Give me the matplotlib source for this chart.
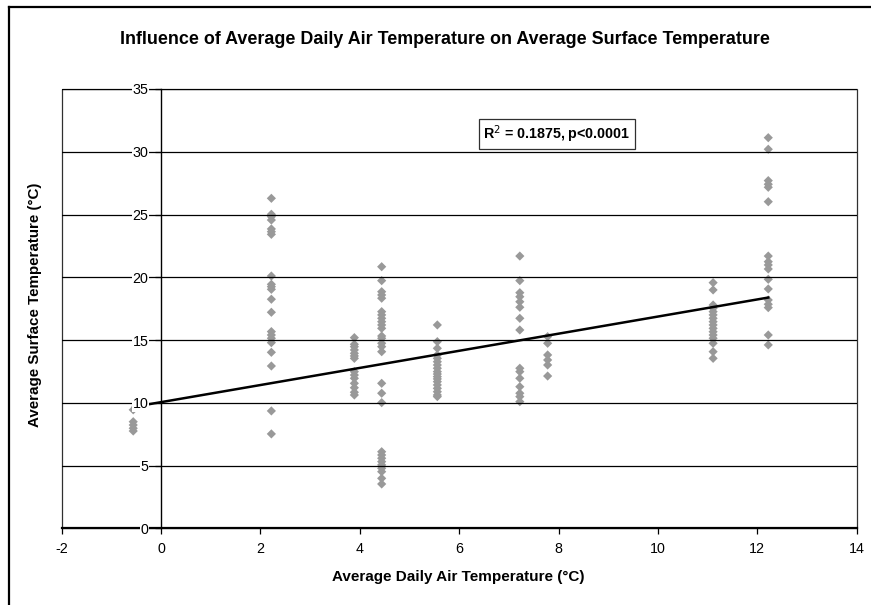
import numpy as np
import matplotlib
matplotlib.use("Agg")
import matplotlib.pyplot as plt
from matplotlib.lines import Line2D

plt.rcParams['font.family'] = ['Liberation Sans', 'DejaVu Sans']
plt.rcParams['axes.unicode_minus'] = False

# air temperature groups (deg C) and the surface temperatures read for each
air_temps = [-0.56, 2.22, 3.89, 4.44, 5.56, 7.22, 7.78, 11.11, 12.22]
surf_m056 = [9.44, 8.49, 8.23, 7.97, 7.75]
surf_222 = [26.29, 25.02, 24.83, 24.56, 23.85, 23.63, 23.42, 20.10, 19.44, 19.25,
            19.04, 18.25, 17.21, 15.67, 15.40, 15.14, 14.79, 14.02, 12.93, 9.35, 7.52]
surf_389 = [15.19, 14.66, 14.47, 14.21, 13.94, 13.73, 13.54, 12.48, 12.21, 11.95,
            11.55, 11.20, 10.84, 10.62]
surf_444 = [20.84, 19.73, 18.85, 18.59, 18.33, 17.26, 17.00, 16.73, 16.46, 16.20,
            15.93, 15.32, 15.14, 14.74, 14.47, 14.07, 11.55, 10.76, 10.01, 6.10,
            5.84, 5.58, 5.31, 5.05, 4.78, 4.51, 3.98, 3.53]
surf_556 = [16.20, 14.87, 14.34, 13.81, 13.54, 13.27, 13.01, 12.75, 12.48, 12.29,
            12.08, 11.90, 11.68, 11.42, 11.15, 10.88, 10.62, 10.49]
surf_722 = [21.69, 19.73, 18.77, 18.45, 18.05, 17.61, 16.73, 15.80, 12.75, 12.48,
            11.95, 11.28, 10.76, 10.49, 10.09]
surf_778 = [15.27, 14.74, 13.81, 13.41, 13.01, 12.13]
surf_1111 = [19.57, 18.99, 17.79, 17.53, 17.26, 17.00, 16.73, 16.46, 16.20, 15.93,
             15.66, 15.40, 15.14, 14.74, 14.07, 13.54]
surf_1222 = [31.12, 30.20, 27.70, 27.41, 27.17, 26.02, 21.69, 21.24, 20.98, 20.66,
             19.84, 19.07, 18.19, 17.85, 17.58, 15.40, 14.61]

# linear trend as shown on the chart
trend_slope = 0.682
trend_intercept = 10.05
annotation = "R$^2$ = 0.1875, p<0.0001"

groups = [surf_m056, surf_222, surf_389, surf_444, surf_556,
          surf_722, surf_778, surf_1111, surf_1222]
x = np.concatenate([[t] * len(g) for t, g in zip(air_temps, groups)])
y = np.concatenate(groups)

fig = plt.figure(figsize=(8.71, 6.05), dpi=100)
ax = fig.add_axes([0.0708, 0.1268, 0.9128, 0.7261])

ax.scatter(x, y, marker='D', s=22, color='#999999', edgecolors='none', zorder=2)

xt = np.array([min(air_temps), max(air_temps)])
ax.plot(xt, trend_slope * xt + trend_intercept, color='black', lw=1.8, zorder=3)

ax.set_xlim(-2, 14)
ax.set_ylim(0, 35)
ax.set_xticks(np.arange(-2, 15, 2))
ax.set_yticks(np.arange(0, 36, 5))

ax.grid(axis='y', color='black', lw=0.9)
ax.yaxis.set_zorder(4)

ax.spines['left'].set_position(('data', 0))
ax.spines['left'].set_linewidth(1.0)
ax.spines['bottom'].set_linewidth(1.6)
for s in ['top', 'right']:
    ax.spines[s].set_visible(False)
# plot area border
frame = plt.Rectangle((0, 0), 1, 1, transform=ax.transAxes, fill=False,
                      edgecolor='#303030', lw=0.9, zorder=1, clip_on=False)
ax.add_patch(frame)

ax.tick_params(axis='both', direction='out', length=4, width=0.9, labelsize=10.3)
ax.tick_params(axis='y', pad=5)
ax.tick_params(axis='x', pad=6)
for lab in ax.get_yticklabels():
    lab.set_bbox(dict(facecolor='white', edgecolor='none', pad=0.5))

ax.text(0.623, 0.8976, annotation, transform=ax.transAxes, ha='center', va='center',
        fontsize=10.3, fontweight='bold', zorder=5,
        bbox=dict(facecolor='white', edgecolor='#303030', lw=0.9, boxstyle='square,pad=0.3'))

fig.text(445 / 871, 0.934, "Influence of Average Daily Air Temperature on Average Surface Temperature",
         ha='center', va='center', fontsize=12.9, fontweight='bold')
fig.text(458.7 / 871, 1 - 576.7 / 605, "Average Daily Air Temperature (°C)",
         ha='center', va='center', fontsize=11.0, fontweight='bold')
fig.text(35 / 871, 1 - 305 / 605, "Average Surface Temperature (°C)", rotation=90,
         ha='center', va='center', fontsize=10.9, fontweight='bold')

# chart area border (only left and top edges fall inside the picture)
fig.add_artist(Line2D([8.5 / 871, 8.5 / 871], [0, 1 - 6.5 / 605], color='black', lw=1.6))
fig.add_artist(Line2D([8.5 / 871, 1], [1 - 6.5 / 605, 1 - 6.5 / 605], color='black', lw=1.6))

fig.savefig("out.png", dpi=100)
